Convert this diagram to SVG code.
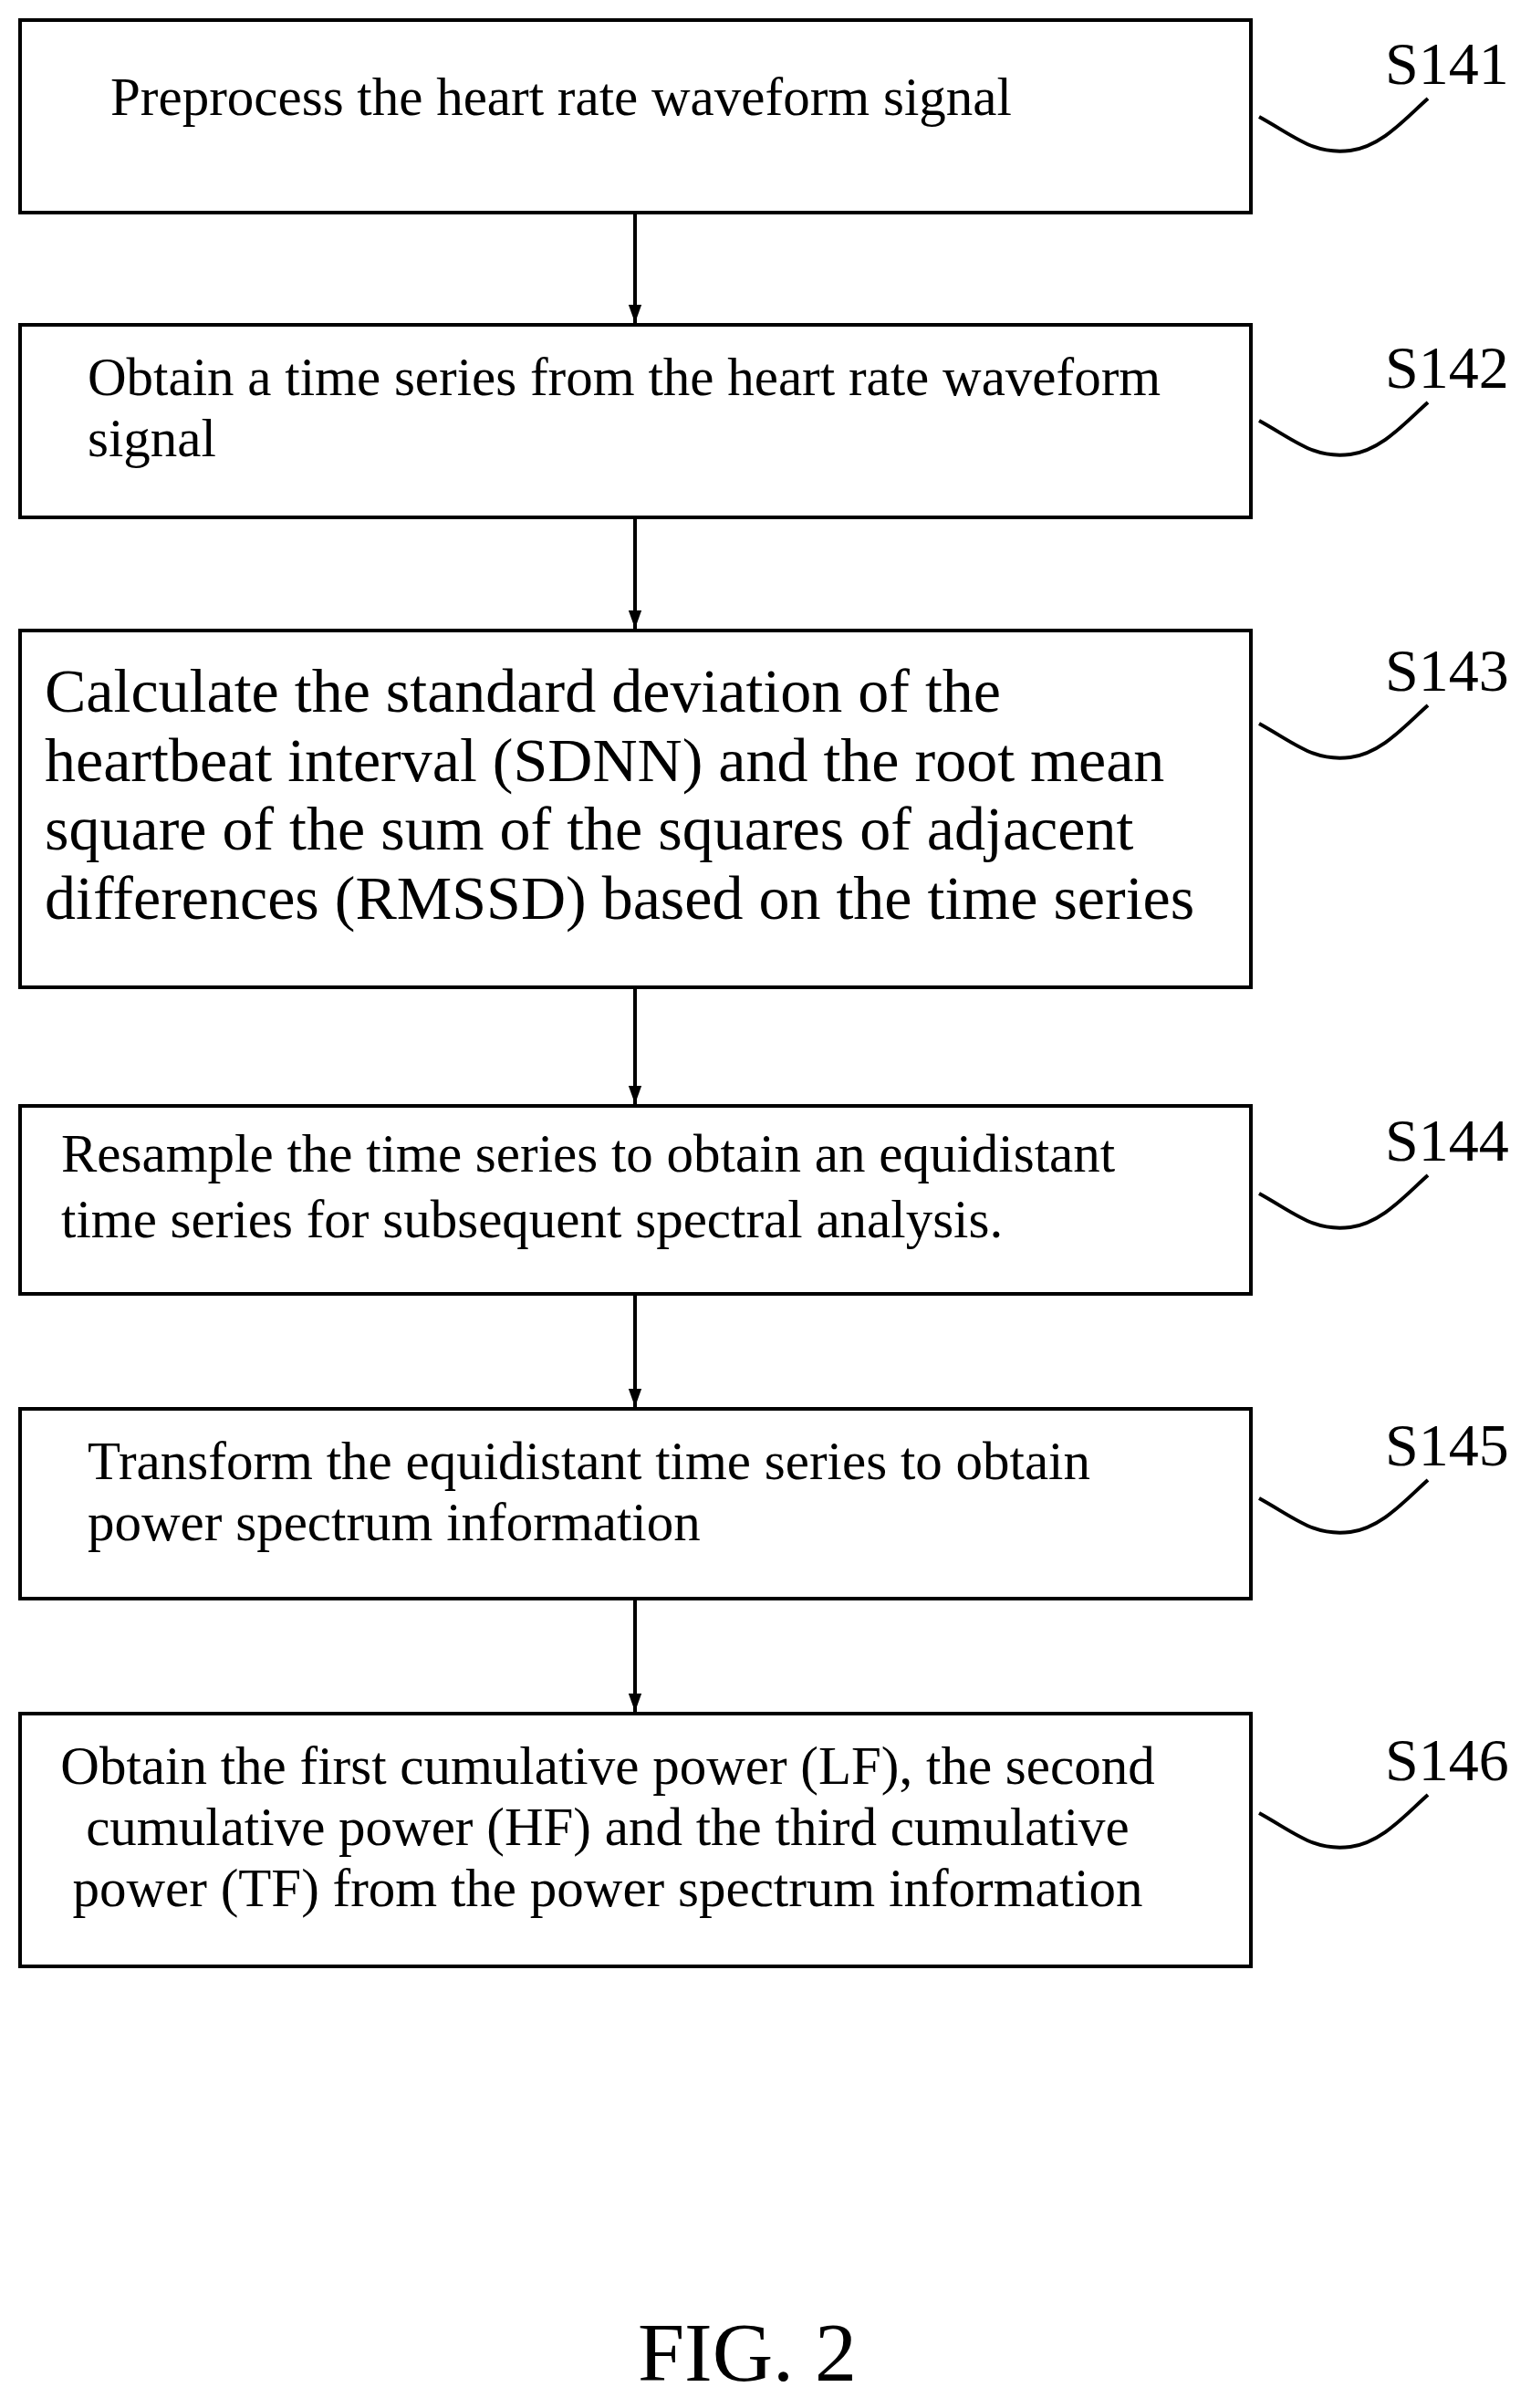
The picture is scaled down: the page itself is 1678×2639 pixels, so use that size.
<svg xmlns="http://www.w3.org/2000/svg" width="1678" height="2639" viewBox="0 0 1678 2639">
<defs>
<style>
.b{fill:#fff;stroke:#000;stroke-width:4}
.t{font-family:"Liberation Serif",serif;font-size:59px;fill:#000}
.tl{font-family:"Liberation Serif",serif;font-size:68px;fill:#000}
.lb{font-family:"Liberation Serif",serif;font-size:66px;fill:#000}
.c{stroke:#000;stroke-width:4;fill:none}
</style>
<marker id="a" markerWidth="20" markerHeight="28" refX="28" refY="10" orient="auto" markerUnits="userSpaceOnUse" viewBox="0 0 28 20"><path d="M0,0 L28,10 L0,20 z" fill="#000"/></marker>
</defs>
<rect width="1678" height="2639" fill="#fff"/>
<g id="n1"><rect class="b" x="22" y="22" width="1349" height="211"/><text class="t" x="121" y="126">Preprocess the heart rate waveform signal</text></g>
<g id="n2"><rect class="b" x="22" y="356" width="1349" height="211"/><text class="t" x="96" y="433">Obtain a time series from the heart rate waveform</text><text class="t" x="96" y="500">signal</text></g>
<g id="n3"><rect class="b" x="22" y="691" width="1349" height="391"/><text class="tl" x="49" y="780">Calculate the standard deviation of the</text><text class="tl" x="49" y="856">heartbeat interval (SDNN) and the root mean</text><text class="tl" x="49" y="931">square of the sum of the squares of adjacent</text><text class="tl" x="49" y="1007">differences (RMSSD) based on the time series</text></g>
<g id="n4"><rect class="b" x="22" y="1212" width="1349" height="206"/><text class="t" x="67" y="1284">Resample the time series to obtain an equidistant</text><text class="t" x="67" y="1356">time series for subsequent spectral analysis.</text></g>
<g id="n5"><rect class="b" x="22" y="1544" width="1349" height="208"/><text class="t" x="96" y="1621">Transform the equidistant time series to obtain</text><text class="t" x="96" y="1688">power spectrum information</text></g>
<g id="n6"><rect class="b" x="22" y="1878" width="1349" height="277"/><text class="t" x="666" y="1955" text-anchor="middle">Obtain the first cumulative power (LF), the second</text><text class="t" x="666" y="2022" text-anchor="middle">cumulative power (HF) and the third cumulative</text><text class="t" x="666" y="2089" text-anchor="middle">power (TF) from the power spectrum information</text></g>
<g id="connectors">
<line class="c" x1="696" y1="233" x2="696" y2="354" marker-end="url(#a)"/>
<line class="c" x1="696" y1="567" x2="696" y2="689" marker-end="url(#a)"/>
<line class="c" x1="696" y1="1082" x2="696" y2="1210" marker-end="url(#a)"/>
<line class="c" x1="696" y1="1418" x2="696" y2="1542" marker-end="url(#a)"/>
<line class="c" x1="696" y1="1752" x2="696" y2="1876" marker-end="url(#a)"/>
</g>
<g id="labels">
<text class="lb" x="1518" y="92">S141</text>
<text class="lb" x="1518" y="425">S142</text>
<text class="lb" x="1518" y="757">S143</text>
<text class="lb" x="1518" y="1272">S144</text>
<text class="lb" x="1518" y="1606">S145</text>
<text class="lb" x="1518" y="1951">S146</text>
<path class="c" d="M1380 128 C1420 150 1440 170 1480 165 C1515 160 1540 130 1565 108"/>
<path class="c" d="M1380 461 C1420 483 1440 503 1480 498 C1515 493 1540 463 1565 441"/>
<path class="c" d="M1380 793 C1420 815 1440 835 1480 830 C1515 825 1540 795 1565 773"/>
<path class="c" d="M1380 1308 C1420 1330 1440 1350 1480 1345 C1515 1340 1540 1310 1565 1288"/>
<path class="c" d="M1380 1642 C1420 1664 1440 1684 1480 1679 C1515 1674 1540 1644 1565 1622"/>
<path class="c" d="M1380 1987 C1420 2009 1440 2029 1480 2024 C1515 2019 1540 1989 1565 1967"/>
</g>
<text x="819" y="2609" text-anchor="middle" style="font-family:'Liberation Serif',serif;font-size:92px">FIG. 2</text>
</svg>
